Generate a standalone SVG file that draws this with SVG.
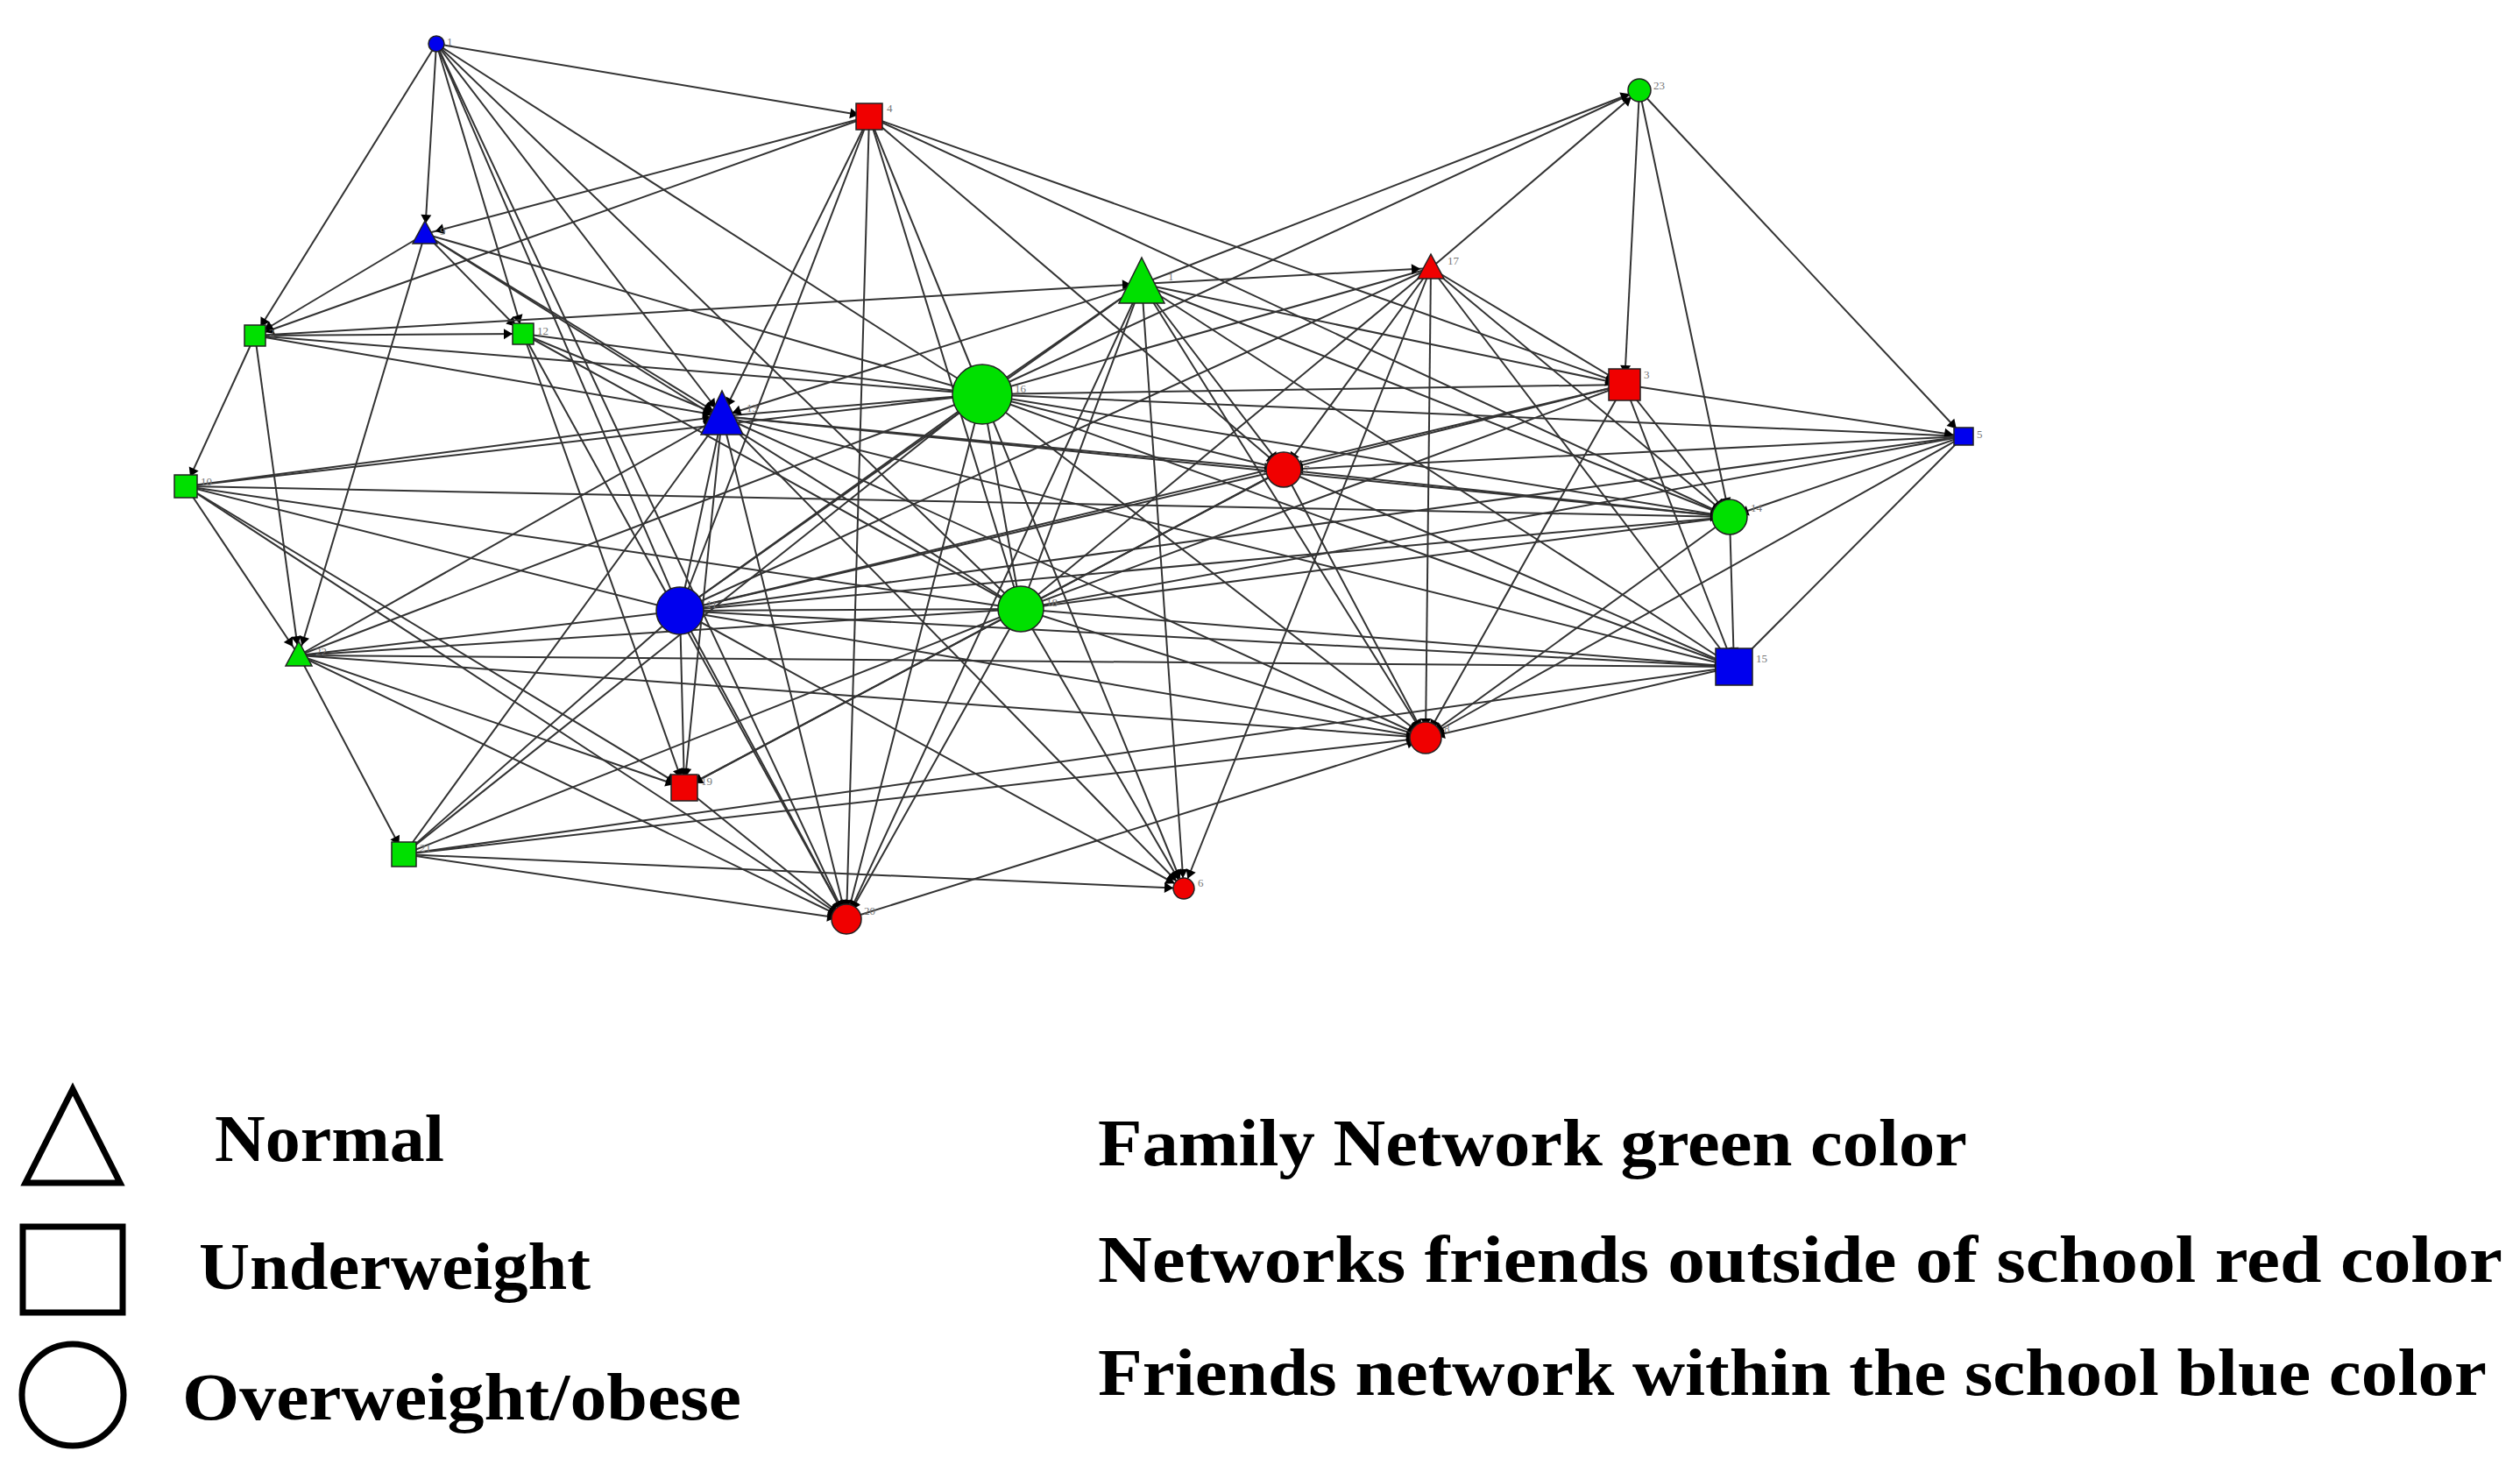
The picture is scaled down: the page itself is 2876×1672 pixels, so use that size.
<svg xmlns="http://www.w3.org/2000/svg" width="2876" height="1672" viewBox="0 0 2876 1672">
<style>
.e line{stroke:#333;stroke-width:2;marker-end:url(#ah)}
.k{stroke:#222;stroke-width:1.5}
.g{fill:#00e000}.r{fill:#f00000}.b{fill:#0000ee}
.lb{font-family:"Liberation Serif",serif;font-size:13px;fill:#777}
.t{font-family:"Liberation Serif",serif;font-size:76px;font-weight:bold;fill:#000}
.lg{fill:none;stroke:#000;stroke-width:7}
</style>
<defs>
<marker id="ah" markerUnits="userSpaceOnUse" markerWidth="40" markerHeight="14" refX="36" refY="6" orient="auto" viewBox="0 0 40 12"><path d="M14,0 L24,6 L14,12 z" fill="#000"/></marker>
</defs>
<rect width="2876" height="1672" fill="#fff"/>
<g id="connectors" class="e">
<line x1="498" y1="50" x2="992" y2="133"/><line x1="498" y1="50" x2="597" y2="381"/><line x1="498" y1="50" x2="824" y2="475"/><line x1="498" y1="50" x2="1121" y2="450"/><line x1="498" y1="50" x2="291" y2="383"/><line x1="498" y1="50" x2="776" y2="697"/><line x1="498" y1="50" x2="966" y2="1049"/><line x1="498" y1="50" x2="1165" y2="695"/><line x1="498" y1="50" x2="485" y2="267"/>
<line x1="992" y1="133" x2="291" y2="383"/><line x1="992" y1="133" x2="485" y2="267"/><line x1="992" y1="133" x2="824" y2="475"/><line x1="992" y1="133" x2="1121" y2="450"/><line x1="992" y1="133" x2="776" y2="697"/><line x1="992" y1="133" x2="1165" y2="695"/><line x1="992" y1="133" x2="1465" y2="536"/><line x1="992" y1="133" x2="1854" y2="439"/><line x1="992" y1="133" x2="1974" y2="590"/><line x1="992" y1="133" x2="966" y2="1049"/>
<line x1="485" y1="267" x2="1121" y2="450"/><line x1="485" y1="267" x2="824" y2="475"/><line x1="485" y1="267" x2="597" y2="381"/><line x1="485" y1="267" x2="341" y2="748"/><line x1="485" y1="267" x2="1165" y2="695"/><line x1="485" y1="267" x2="291" y2="383"/>
<line x1="291" y1="383" x2="1121" y2="450"/><line x1="291" y1="383" x2="824" y2="475"/><line x1="291" y1="383" x2="597" y2="381"/><line x1="291" y1="383" x2="212" y2="555"/><line x1="291" y1="383" x2="341" y2="748"/><line x1="291" y1="383" x2="1303" y2="324"/>
<line x1="597" y1="381" x2="824" y2="475"/><line x1="597" y1="381" x2="1121" y2="450"/><line x1="597" y1="381" x2="966" y2="1049"/><line x1="597" y1="381" x2="1165" y2="695"/><line x1="597" y1="381" x2="781" y2="899"/>
<line x1="824" y1="475" x2="1121" y2="450"/><line x1="824" y1="475" x2="1465" y2="536"/><line x1="824" y1="475" x2="1974" y2="590"/><line x1="824" y1="475" x2="1979" y2="761"/><line x1="824" y1="475" x2="776" y2="697"/><line x1="824" y1="475" x2="781" y2="899"/><line x1="824" y1="475" x2="966" y2="1049"/><line x1="824" y1="475" x2="1351" y2="1014"/><line x1="212" y1="555" x2="824" y2="475"/><line x1="1303" y1="324" x2="824" y2="475"/><line x1="824" y1="475" x2="1627" y2="842"/><line x1="341" y1="748" x2="824" y2="475"/><line x1="461" y1="975" x2="824" y2="475"/>
<line x1="1303" y1="324" x2="1121" y2="450"/><line x1="1633" y1="306" x2="1121" y2="450"/><line x1="1854" y1="439" x2="1121" y2="450"/><line x1="1465" y1="536" x2="1121" y2="450"/><line x1="1974" y1="590" x2="1121" y2="450"/><line x1="1979" y1="761" x2="1121" y2="450"/><line x1="1121" y1="450" x2="1627" y2="842"/><line x1="1121" y1="450" x2="1165" y2="695"/><line x1="1121" y1="450" x2="776" y2="697"/><line x1="212" y1="555" x2="1121" y2="450"/><line x1="341" y1="748" x2="1121" y2="450"/><line x1="461" y1="975" x2="1121" y2="450"/><line x1="966" y1="1049" x2="1121" y2="450"/><line x1="1121" y1="450" x2="1351" y2="1014"/><line x1="2241" y1="498" x2="1121" y2="450"/><line x1="1871" y1="103" x2="1121" y2="450"/>
<line x1="1303" y1="324" x2="1871" y2="103"/><line x1="1303" y1="324" x2="1633" y2="306"/><line x1="1303" y1="324" x2="1854" y2="439"/><line x1="1303" y1="324" x2="776" y2="697"/><line x1="1303" y1="324" x2="1165" y2="695"/><line x1="1303" y1="324" x2="966" y2="1049"/><line x1="1303" y1="324" x2="1351" y2="1014"/><line x1="1303" y1="324" x2="1627" y2="842"/><line x1="1303" y1="324" x2="1974" y2="590"/><line x1="1303" y1="324" x2="1979" y2="761"/><line x1="1303" y1="324" x2="1465" y2="536"/>
<line x1="1633" y1="306" x2="1871" y2="103"/><line x1="1633" y1="306" x2="1854" y2="439"/><line x1="1633" y1="306" x2="1974" y2="590"/><line x1="1633" y1="306" x2="1979" y2="761"/><line x1="1633" y1="306" x2="1627" y2="842"/><line x1="1633" y1="306" x2="1465" y2="536"/><line x1="1633" y1="306" x2="1165" y2="695"/><line x1="1633" y1="306" x2="776" y2="697"/><line x1="1633" y1="306" x2="1351" y2="1014"/>
<line x1="1871" y1="103" x2="1854" y2="439"/><line x1="1871" y1="103" x2="2241" y2="498"/><line x1="1871" y1="103" x2="1974" y2="590"/>
<line x1="1854" y1="439" x2="2241" y2="498"/><line x1="1854" y1="439" x2="1974" y2="590"/><line x1="1854" y1="439" x2="1979" y2="761"/><line x1="1854" y1="439" x2="1627" y2="842"/><line x1="1854" y1="439" x2="1465" y2="536"/><line x1="1854" y1="439" x2="1165" y2="695"/><line x1="1854" y1="439" x2="776" y2="697"/>
<line x1="2241" y1="498" x2="1465" y2="536"/><line x1="2241" y1="498" x2="1974" y2="590"/><line x1="2241" y1="498" x2="1979" y2="761"/><line x1="2241" y1="498" x2="1627" y2="842"/><line x1="2241" y1="498" x2="1165" y2="695"/><line x1="2241" y1="498" x2="776" y2="697"/>
<line x1="1465" y1="536" x2="1974" y2="590"/><line x1="1465" y1="536" x2="1979" y2="761"/><line x1="1465" y1="536" x2="1627" y2="842"/><line x1="1465" y1="536" x2="1165" y2="695"/><line x1="1465" y1="536" x2="776" y2="697"/><line x1="1465" y1="536" x2="781" y2="899"/>
<line x1="1974" y1="590" x2="1979" y2="761"/><line x1="1974" y1="590" x2="1627" y2="842"/><line x1="1974" y1="590" x2="1165" y2="695"/><line x1="1974" y1="590" x2="776" y2="697"/>
<line x1="1979" y1="761" x2="1627" y2="842"/><line x1="1979" y1="761" x2="1165" y2="695"/><line x1="1979" y1="761" x2="776" y2="697"/><line x1="341" y1="748" x2="1979" y2="761"/><line x1="461" y1="975" x2="1979" y2="761"/>
<line x1="1627" y1="842" x2="1165" y2="695"/><line x1="1627" y1="842" x2="776" y2="697"/><line x1="341" y1="748" x2="1627" y2="842"/><line x1="461" y1="975" x2="1627" y2="842"/><line x1="966" y1="1049" x2="1627" y2="842"/>
<line x1="212" y1="555" x2="776" y2="697"/><line x1="212" y1="555" x2="1165" y2="695"/><line x1="212" y1="555" x2="781" y2="899"/><line x1="212" y1="555" x2="1974" y2="590"/><line x1="212" y1="555" x2="966" y2="1049"/>
<line x1="1165" y1="695" x2="776" y2="697"/><line x1="776" y1="697" x2="781" y2="899"/><line x1="776" y1="697" x2="966" y2="1049"/><line x1="776" y1="697" x2="1351" y2="1014"/><line x1="341" y1="748" x2="776" y2="697"/><line x1="461" y1="975" x2="776" y2="697"/>
<line x1="1165" y1="695" x2="966" y2="1049"/><line x1="1165" y1="695" x2="1351" y2="1014"/><line x1="1165" y1="695" x2="781" y2="899"/><line x1="341" y1="748" x2="1165" y2="695"/><line x1="461" y1="975" x2="1165" y2="695"/>
<line x1="341" y1="748" x2="461" y2="975"/><line x1="341" y1="748" x2="966" y2="1049"/><line x1="341" y1="748" x2="781" y2="899"/><line x1="781" y1="899" x2="966" y2="1049"/><line x1="461" y1="975" x2="966" y2="1049"/><line x1="461" y1="975" x2="1351" y2="1014"/><line x1="212" y1="555" x2="341" y2="748"/>
</g>
<g id="nA"><circle class="b k" cx="498" cy="50" r="9"/><text class="lb" x="510" y="52">1</text></g>
<g id="nB"><rect class="r k" x="977" y="118" width="30" height="30"/><text class="lb" x="1012" y="128">4</text></g>
<g id="nC"><polygon class="b k" points="485,252 499,278 471,278"/><text class="lb" x="502" y="268">9</text></g>
<g id="nD"><rect class="g k" x="279" y="371" width="24" height="24"/><text class="lb" x="307" y="384">2</text></g>
<g id="nE"><rect class="g k" x="585" y="369" width="24" height="24"/><text class="lb" x="613" y="382">12</text></g>
<g id="nF"><polygon class="b k" points="824,446 848,496 800,496"/><text class="lb" x="852" y="470">13</text></g>
<g id="nG"><circle class="g k" cx="1121" cy="450" r="34"/><text class="lb" x="1158" y="448">16</text></g>
<g id="nH"><polygon class="g k" points="1303,294 1329,346 1277,346"/><text class="lb" x="1333" y="320">1</text></g>
<g id="nI"><polygon class="r k" points="1633,290 1648,318 1618,318"/><text class="lb" x="1652" y="302">17</text></g>
<g id="nJ"><circle class="g k" cx="1871" cy="103" r="13"/><text class="lb" x="1887" y="102">23</text></g>
<g id="nK"><rect class="r k" x="1836" y="421" width="36" height="36"/><text class="lb" x="1876" y="432">3</text></g>
<g id="nL"><rect class="b k" x="2230" y="488" width="22" height="20"/><text class="lb" x="2256" y="500">5</text></g>
<g id="nM"><circle class="r k" cx="1465" cy="536" r="20"/><text class="lb" x="1488" y="540">7</text></g>
<g id="nN"><circle class="g k" cx="1974" cy="590" r="20"/><text class="lb" x="1998" y="584">14</text></g>
<g id="nO"><rect class="b k" x="1958" y="740" width="42" height="42"/><text class="lb" x="2004" y="756">15</text></g>
<g id="nP"><circle class="r k" cx="1627" cy="842" r="18"/><text class="lb" x="1648" y="836">8</text></g>
<g id="nQ"><rect class="g k" x="199" y="542" width="26" height="26"/><text class="lb" x="229" y="554">10</text></g>
<g id="nR"><circle class="b k" cx="776" cy="697" r="27"/><text class="lb" x="806" y="694">11</text></g>
<g id="nS"><circle class="g k" cx="1165" cy="695" r="26"/><text class="lb" x="1194" y="692">18</text></g>
<g id="nT"><polygon class="g k" points="341,732 356,760 326,760"/><text class="lb" x="360" y="748">22</text></g>
<g id="nU"><rect class="r k" x="766" y="884" width="30" height="30"/><text class="lb" x="800" y="896">19</text></g>
<g id="nV"><rect class="g k" x="447" y="961" width="28" height="28"/><text class="lb" x="479" y="972">21</text></g>
<g id="nW"><circle class="r k" cx="966" cy="1049" r="17"/><text class="lb" x="986" y="1044">20</text></g>
<g id="nX"><circle class="r k" cx="1351" cy="1014" r="12"/><text class="lb" x="1367" y="1012">6</text></g>
<g id="legend">
<polygon class="lg" points="83,1243 137,1350 29,1350"/>
<rect class="lg" x="26" y="1400" width="114" height="98"/>
<circle class="lg" cx="83" cy="1592" r="58"/>
<text class="t" x="245" y="1325" textLength="262" lengthAdjust="spacingAndGlyphs">Normal</text>
<text class="t" x="227" y="1471" textLength="447" lengthAdjust="spacingAndGlyphs">Underweight</text>
<text class="t" x="208" y="1620" textLength="638" lengthAdjust="spacingAndGlyphs">Overweight/obese</text>
<text class="t" x="1253" y="1330" textLength="992" lengthAdjust="spacingAndGlyphs">Family Network green color</text>
<text class="t" x="1253" y="1463" textLength="1603" lengthAdjust="spacingAndGlyphs">Networks friends outside of school red color</text>
<text class="t" x="1253" y="1592" textLength="1585" lengthAdjust="spacingAndGlyphs">Friends network within the school blue color</text>
</g>
</svg>
